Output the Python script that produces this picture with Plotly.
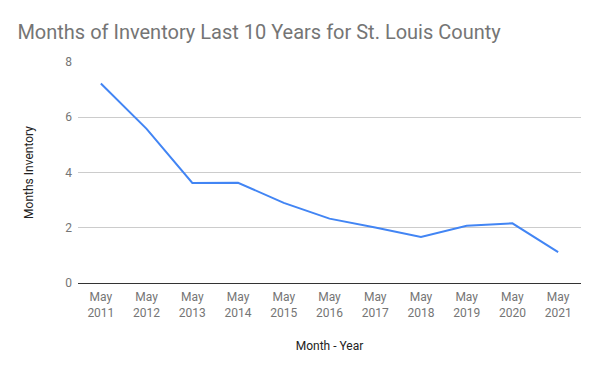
import plotly.graph_objects as go

years = ["2011", "2012", "2013", "2014", "2015", "2016", "2017", "2018", "2019", "2020", "2021"]
labels = ["May<br>" + y for y in years]
months_inventory = [7.22, 5.58, 3.62, 3.63, 2.90, 2.33, 2.01, 1.67, 2.07, 2.16, 1.12]
y_ticks = [0, 2, 4, 6, 8]

fig = go.Figure()
fig.add_trace(go.Scatter(
    x=labels, y=months_inventory, mode="lines",
    line=dict(color="#4285F4", width=2),
    showlegend=False,
))

fig.update_layout(
    width=600, height=371,
    margin=dict(l=78, r=19, t=62, b=88),
    paper_bgcolor="white", plot_bgcolor="white",
    font=dict(family="Roboto", size=12, color="#757575"),
    title=dict(
        text="Months of Inventory Last 10 Years for St. Louis County",
        font=dict(family="Roboto", size=20, color="#757575"),
        x=0.029, xanchor="left", y=0.915, yanchor="middle",
        xref="container",
    ),
    xaxis=dict(
        type="category", range=[-0.5, 10.5],
        showgrid=False, showline=False, ticks="", ticklabelstandoff=5,
        tickfont=dict(size=12, color="#757575"),
        title=dict(text="Month - Year", font=dict(size=12, color="#222222"), standoff=23),
    ),
    yaxis=dict(
        range=[0, 8], tickvals=y_ticks,
        showgrid=True, gridcolor="#cccccc", gridwidth=1,
        zeroline=True, zerolinecolor="#333333", zerolinewidth=1,
        showline=False, ticks="", ticklabelstandoff=5,
        tickfont=dict(size=12, color="#757575"),
        title=dict(text="Months Inventory", font=dict(size=12, color="#222222"), standoff=29),
    ),
)

fig.write_html("out.html", config={"displayModeBar": False},
               post_script="document.body.style.margin='0';")
